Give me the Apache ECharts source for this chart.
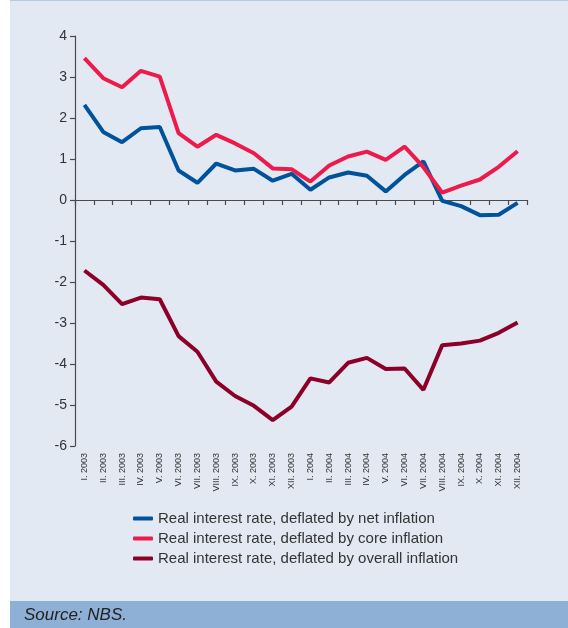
<!DOCTYPE html>
<html>
<head>
<meta charset="utf-8">
<script src="https://cdn.jsdelivr.net/npm/echarts@6/dist/echarts.min.js"></script>
<style>
html,body{margin:0;padding:0;background:#ffffff;}
#chart{width:568px;height:628px;}
</style>
</head>
<body>
<div id="chart"></div>
<script>
const categories = ["I. 2003","II. 2003","III. 2003","IV. 2003","V. 2003","VI. 2003","VII. 2003","VIII. 2003","IX. 2003","X. 2003","XI. 2003","XII. 2003",
  "I. 2004","II. 2004","III. 2004","IV. 2004","V. 2004","VI. 2004","VII. 2004","VIII. 2004","IX. 2004","X. 2004","XI. 2004","XII. 2004"];
const netInflation = [2.32,1.66,1.41,1.75,1.78,0.72,0.42,0.89,0.72,0.76,0.47,0.64,0.25,0.55,0.67,0.59,0.21,0.61,0.94,-0.02,-0.15,-0.37,-0.36,-0.07];
const coreInflation = [3.46,2.97,2.75,3.15,3.01,1.63,1.30,1.59,1.38,1.14,0.77,0.75,0.45,0.84,1.06,1.18,0.98,1.30,0.80,0.18,0.35,0.50,0.81,1.19];
const overallInflation = [-1.72,-2.07,-2.54,-2.38,-2.42,-3.32,-3.70,-4.43,-4.78,-5.02,-5.37,-5.04,-4.35,-4.45,-3.97,-3.85,-4.12,-4.11,-4.63,-3.54,-3.50,-3.43,-3.24,-2.99];
const seriesNames = ["Real interest rate, deflated by net inflation","Real interest rate, deflated by core inflation","Real interest rate, deflated by overall inflation"];
const colors = ["#00529b","#ec1b4b","#8c0027"];

const chart = echarts.init(document.getElementById('chart'), null, {renderer:'canvas'});
const axisColor = '#4a4a4a';
chart.setOption({
  backgroundColor:'#ffffff',
  animation:false,
  textStyle:{fontFamily:'Liberation Sans, Arial, sans-serif'},
  graphic:[
    {type:'rect', z:-10, shape:{x:10,y:0,width:558,height:601}, style:{fill:'#e2e9f3'}},
    {type:'rect', z:-9, shape:{x:10,y:0,width:558,height:1}, style:{fill:'#b4c9e6'}},
    {type:'rect', z:-9, shape:{x:10,y:601,width:558,height:27}, style:{fill:'#8eafd6'}},
    {type:'text', left:24, top:607, style:{text:'Source: NBS.', font:'italic 17px Liberation Sans, Arial, sans-serif', fill:'#222222'}}
  ],
  grid:{left:75, top:36, right:41, bottom:182, containLabel:false},
  legend:{
    orient:'vertical', left:133, top:511, itemGap:5, padding:0,
    itemWidth:20, itemHeight:4, icon:'roundRect',
    textStyle:{fontSize:15, color:'#333333', lineHeight:15, fontFamily:'Liberation Sans, Arial, sans-serif'},
    data:seriesNames
  },
  xAxis:[
    {type:'category', data:categories, boundaryGap:true,
     axisLine:{onZero:true, lineStyle:{color:axisColor, width:1.2}},
     axisTick:{show:true, interval:0, length:5, inside:false, lineStyle:{color:axisColor, width:1.2}},
     axisLabel:{show:false}},
    {type:'category', data:categories, boundaryGap:true, position:'bottom',
     axisLine:{show:false, onZero:false}, axisTick:{show:false},
     axisLabel:{show:true, rotate:90, interval:0, fontSize:9, color:'#333333', margin:7}}
  ],
  yAxis:{type:'value', min:-6, max:4, interval:1,
    splitLine:{show:false},
    axisLine:{show:true, onZero:false, lineStyle:{color:axisColor, width:1.2}},
    axisTick:{show:true, length:5, inside:false, lineStyle:{color:axisColor, width:1.2}},
    axisLabel:{fontSize:14, color:'#333333', margin:8}
  },
  series:[
    {name:seriesNames[0], type:'line', data:netInflation, showSymbol:false, symbol:'none', lineStyle:{width:4, color:colors[0]}, itemStyle:{color:colors[0]}},
    {name:seriesNames[1], type:'line', data:coreInflation, showSymbol:false, symbol:'none', lineStyle:{width:4, color:colors[1]}, itemStyle:{color:colors[1]}},
    {name:seriesNames[2], type:'line', data:overallInflation, showSymbol:false, symbol:'none', lineStyle:{width:4, color:colors[2]}, itemStyle:{color:colors[2]}}
  ]
});
</script>
</body>
</html>
